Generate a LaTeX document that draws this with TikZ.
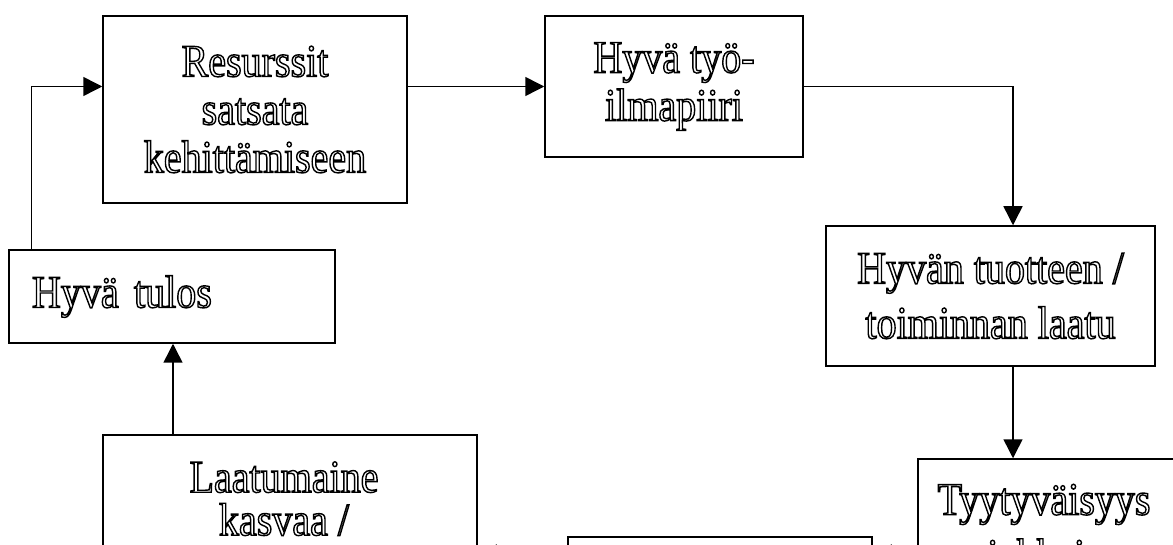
\documentclass[tikz,border=0pt]{standalone}
\usepackage{fontspec}
\setmainfont{Liberation Serif}[FakeStretch=0.87]
\usetikzlibrary{arrows.meta,positioning}
\newcommand{\hollowtext}{\special{pdf:literal direct 1 Tr 1.4 w}}

\begin{document}
\begin{tikzpicture}[x=1pt, y=-1pt, line width=1.5pt,
            >={Triangle[length=19pt,width=19pt]},
            box node/.style={rectangle,draw,inner sep=0pt,align=center,
                font=\fontsize{46}{48}\selectfont\hollowtext},
            text node/.style={inner sep=0pt,align=center,anchor=north,
                font=\fontsize{46}{48}\selectfont\hollowtext}]
        \useasboundingbox (0,0) rectangle (1173,545);

        \node[box node, minimum width=304pt, minimum height=187pt] (res) at (255,109.5)
            {Resurssit\\satsata\\kehittämiseen};
        \node[box node, minimum width=258pt, minimum height=141pt] (ilma) at (674,86.5)
            {Hyvä työ-\\ilmapiiri};
        \node[box node, minimum width=329pt, minimum height=140pt] (laatu) at (990.5,296)
            {Hyvän tuotteen /\\[7pt]toiminnan laatu};
        \node[box node, minimum width=272pt, minimum height=200pt] (tyyt) at (1054,559) {};
        \node[text node] (tyyttext) at (1044,483.5) {Tyytyväisyys\\[8pt]asiakkaissa};
        \node[box node, minimum width=304pt, minimum height=163pt] (mid) at (720,618.5) {};
        \node[box node, minimum width=374pt, minimum height=265pt] (maine) at (290,567.5) {};
        \node[text node] (mainetext) at (284,461) {Laatumaine\\[-5pt]kasvaa /};
        \node[box node, minimum height=93pt, text width=280pt, inner xsep=23pt,
            align=left] (tulos) at (172,296.5) {Hyvä tulos};

        \coordinate (drop) at (1013,0);
        \coordinate (rise) at (173,0);
        \coordinate (low) at (0,554);

        \draw[->] ([xshift=23pt]tulos.north west) |- (res.west |- ilma.west);
        \draw[->] (ilma.east) -| (drop |- laatu.north);
        \path[->]
        (res.east |- ilma.west) edge (ilma.west)
        (drop |- laatu.south) edge (drop |- tyyt.north)
        (tyyt.west |- low) edge (mid.east |- low)
        (mid.west |- low) edge (maine.east |- low)
        (rise |- maine.north) edge (rise |- tulos.south);
\end{tikzpicture}
\end{document}
